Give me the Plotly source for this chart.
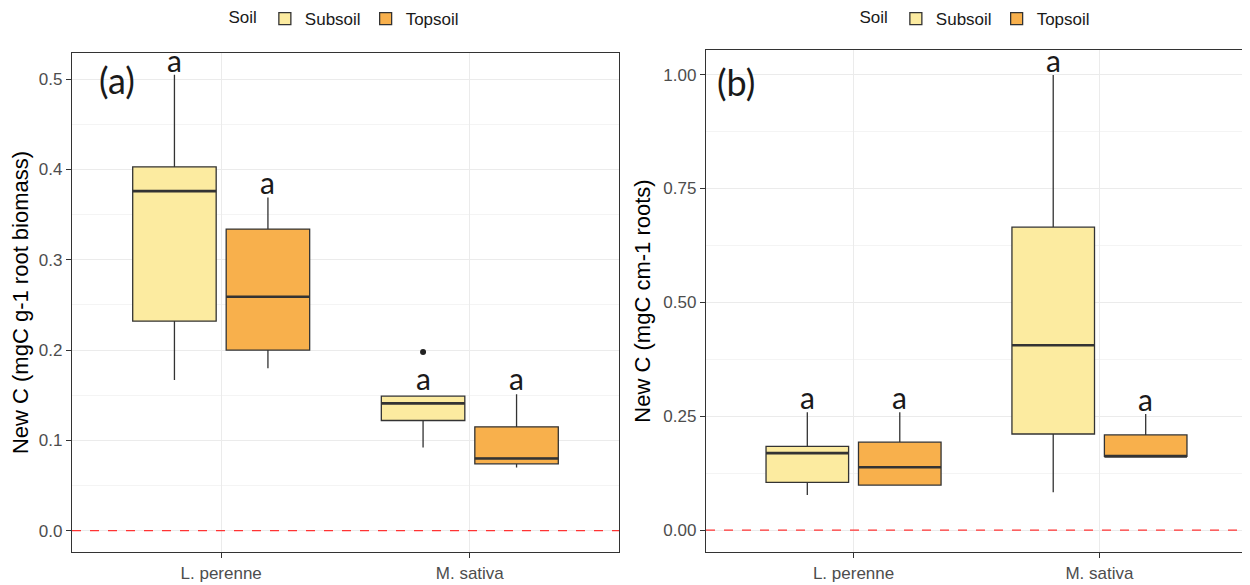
import plotly.graph_objects as go

categories = ["L. perenne", "M. sativa"]
soils = ["Subsoil", "Topsoil"]
colors = {"Subsoil": "#FCEBA0", "Topsoil": "#F8B04C"}

# Panel (a): New C (mgC g-1 root biomass)
a_stats = {
    "Subsoil": dict(low=[0.167, 0.092], q1=[0.232, 0.122], med=[0.376, 0.141], q3=[0.403, 0.149], high=[0.505, 0.149]),
    "Topsoil": dict(low=[0.180, 0.070], q1=[0.200, 0.074], med=[0.259, 0.080], q3=[0.334, 0.115], high=[0.369, 0.151]),
}
# sample points per box (only values outside the whiskers are drawn)
a_points = {"Subsoil": [[0.376], [0.198]], "Topsoil": None}
a_letters = {"Subsoil": [0.505, 0.152], "Topsoil": [0.369, 0.152]}

# Panel (b): New C (mgC cm-1 roots)
b_stats = {
    "Subsoil": dict(low=[0.077, 0.083], q1=[0.105, 0.211], med=[0.169, 0.406], q3=[0.184, 0.665], high=[0.259, 0.999]),
    "Topsoil": dict(low=[0.099, 0.162], q1=[0.099, 0.162], med=[0.138, 0.162], q3=[0.193, 0.209], high=[0.259, 0.255]),
}
b_points = {"Subsoil": None, "Topsoil": None}
b_letters = {"Subsoil": [0.259, 0.999], "Topsoil": [0.259, 0.255]}

W, H = 1242, 577   # page adds an 8 px body margin
OFF = 8

fig = go.Figure()
line_col = "#333333"

def add_panel(stats, points, xa, ya, legend):
    for s in soils:
        st = stats[s]
        kw = {}
        if points[s] is not None:
            kw["y"] = points[s]
            kw["boxpoints"] = "outliers"
        else:
            kw["boxpoints"] = False
        fig.add_trace(go.Box(
            name=s, x=categories, q1=st["q1"], median=st["med"], q3=st["q3"],
            lowerfence=st["low"], upperfence=st["high"],
            fillcolor=colors[s], line=dict(color=line_col, width=1.3),
            marker=dict(color="#222222", size=6),
            jitter=0, pointpos=0, whiskerwidth=0,
            offsetgroup=s, legend=legend,
            xaxis=xa, yaxis=ya, hoverinfo="skip", **kw))
    # thicker median bars (ggplot's fattened median line)
    for s in soils:
        st = stats[s]
        fig.add_trace(go.Box(
            name=s, x=categories, q1=st["med"], median=st["med"], q3=st["med"],
            lowerfence=st["med"], upperfence=st["med"],
            fillcolor="rgba(0,0,0,0)", line=dict(color=line_col, width=2.6),
            boxpoints=False, whiskerwidth=0, offsetgroup=s, showlegend=False,
            xaxis=xa, yaxis=ya, hoverinfo="skip"))

add_panel(a_stats, a_points, "x", "y", "legend")
add_panel(b_stats, b_points, "x2", "y2", "legend2")

font_fam = "Liberation Sans, Arial, sans-serif"
letter_font = dict(family="Lato, Open Sans, sans-serif", size=30, color="#1a1a1a")
offsets = {"Subsoil": -0.188, "Topsoil": 0.188}

annotations = []
for letters, xr, yr in [(a_letters, "x", "y"), (b_letters, "x2", "y2")]:
    for s in soils:
        for i, v in enumerate(letters[s]):
            annotations.append(dict(x=i + offsets[s], y=v, xref=xr, yref=yr, text="a",
                                    showarrow=False, yanchor="bottom", yshift=-5, font=letter_font))

panel_font = dict(family="Lato, Open Sans, sans-serif", size=36, color="#1a1a1a")
annotations.append(dict(x=(97 - OFF) / W, y=1 - (56 - OFF) / H, xref="paper", yref="paper", text="(a)",
                        showarrow=False, xanchor="left", yanchor="top", font=panel_font))
annotations.append(dict(x=(715 - OFF) / W, y=1 - (58 - OFF) / H, xref="paper", yref="paper", text="(b)",
                        showarrow=False, xanchor="left", yanchor="top", font=panel_font))

shapes = []
for xr, yr in [("x domain", "y"), ("x2 domain", "y2")]:
    shapes.append(dict(type="line", xref=xr, yref=yr, x0=0, x1=1, y0=0, y1=0,
                       line=dict(color="#FF3333", width=1.2, dash="dash")))

axis_common = dict(showline=True, mirror=True, linecolor=line_col, linewidth=1.3,
                   ticks="outside", ticklen=5, tickcolor=line_col, tickwidth=1.1,
                   tickfont=dict(family=font_fam, size=17, color="#4d4d4d"),
                   showgrid=True, gridcolor="#EBEBEB", gridwidth=1, zeroline=False)

title_font = dict(family=font_fam, size=22, color="#000")
legend_common = dict(orientation="h", yanchor="middle", y=1 - (19 - OFF) / H,
                     font=dict(family=font_fam, size=17, color="#1a1a1a"),
                     bgcolor="rgba(0,0,0,0)", itemwidth=30)

fig.update_layout(
    width=W, height=H,
    margin=dict(l=0, r=0, t=0, b=0, autoexpand=False),
    paper_bgcolor="white", plot_bgcolor="white",
    boxmode="group", boxgap=0.248, boxgroupgap=0.107,
    font=dict(family=font_fam, color="#1a1a1a"),
    xaxis=dict(domain=[(72 - OFF) / W, (619 - OFF) / W], anchor="y", type="category",
               range=[-0.6, 1.6], **axis_common),
    yaxis=dict(domain=[1 - (552 - OFF) / H, 1 - (53 - OFF) / H], anchor="x", range=[-0.0236, 0.529],
               tickvals=[0.0, 0.1, 0.2, 0.3, 0.4, 0.5], ticktext=["0.0", "0.1", "0.2", "0.3", "0.4", "0.5"],
               minor=dict(showgrid=True, gridcolor="#F4F4F4", dtick=0.05, tick0=0, ticks=""),
               title=dict(text="New C (mgC g-1 root biomass)", font=title_font, standoff=6),
               **axis_common),
    xaxis2=dict(domain=[(706 - OFF) / W, (1247 - OFF) / W], anchor="y2", type="category",
                range=[-0.6, 1.6], **axis_common),
    yaxis2=dict(domain=[1 - (552 - OFF) / H, 1 - (50 - OFF) / H], anchor="x2", range=[-0.048, 1.054],
                tickvals=[0.0, 0.25, 0.5, 0.75, 1.0], ticktext=["0.00", "0.25", "0.50", "0.75", "1.00"],
                minor=dict(showgrid=True, gridcolor="#F4F4F4", dtick=0.125, tick0=0, ticks=""),
                title=dict(text="New C (mgC cm-1 roots)", font=title_font, standoff=6),
                **axis_common),
    legend=dict(x=(345.5 - OFF) / W, xanchor="center",
                title=dict(text="Soil", side="left", font=dict(family=font_fam, size=17, color="#1a1a1a")),
                **legend_common),
    legend2=dict(x=(976.5 - OFF) / W, xanchor="center",
                 title=dict(text="Soil", side="left", font=dict(family=font_fam, size=17, color="#1a1a1a")),
                 **legend_common),
    annotations=annotations, shapes=shapes,
)

fig.write_html("out.html")
